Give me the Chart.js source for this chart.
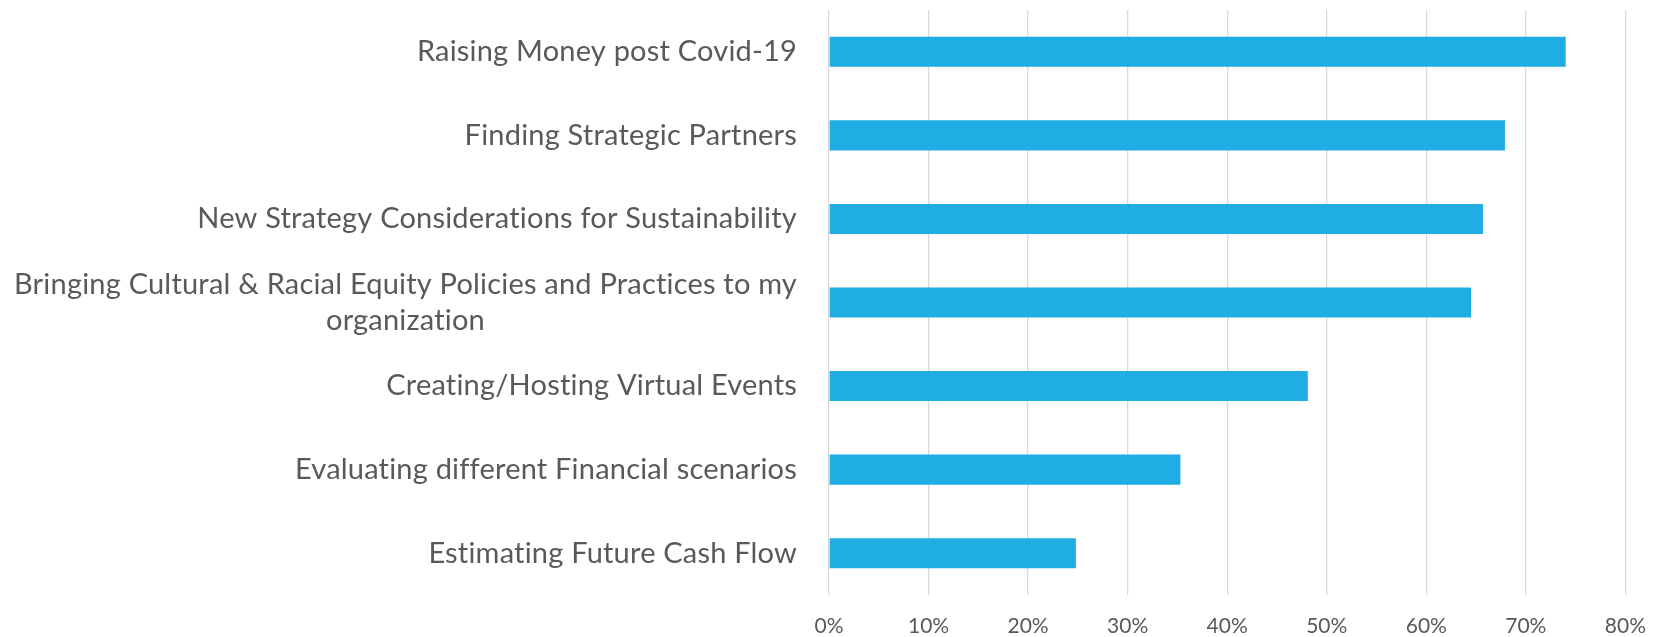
<!DOCTYPE html>
<html>
<head>
<meta charset="utf-8">
<title>Priorities</title>
<script src="https://cdn.jsdelivr.net/npm/chart.js@4.4.1/dist/chart.umd.min.js"></script>
<style>
    html, body { margin: 0; padding: 0; background: #ffffff; }
    #chart { display: block; }
</style>
</head>
<body>
<canvas id="chart" width="1667" height="637"></canvas>
<script>
/* ================== DATA ================== */
const categories = [
    "Raising Money post Covid-19",
    "Finding Strategic Partners",
    "New Strategy Considerations for Sustainability",
    ["Bringing Cultural & Racial Equity Policies and Practices to my", "organization"],
    "Creating/Hosting Virtual Events",
    "Evaluating different Financial scenarios",
    "Estimating Future Cash Flow"
];
const shares = [74.0, 67.9, 65.7, 64.5, 48.1, 35.3, 24.8];
const xTicks = [0, 10, 20, 30, 40, 50, 60, 70, 80];

/* ================== STYLE ================== */
const BAR_COLOR = "#1FADE3";
const GRID_COLOR = "#D9D9D9";
const TEXT_COLOR = "#595959";
const FONT = "Lato";
const LABEL_SIZE = 29;
const LABEL_LINE = 36;
const LABEL_GAP = 32;

/* ================== CATEGORY LABELS ================== */
// right-aligned block, each line centred inside it (like the source)
const yLabelPlugin = {
    id: "yLabels",
    afterDraw(chart) {
        const scale = chart.scales.y;
        const ctx = chart.ctx;
        ctx.save();
        ctx.font = `${LABEL_SIZE}px ${FONT}`;
        if ("letterSpacing" in ctx) ctx.letterSpacing = "0.2px"; // also stops the "ti" ligature
        ctx.fillStyle = TEXT_COLOR;
        ctx.textAlign = "center";
        ctx.textBaseline = "middle";
        const right = chart.chartArea.left - LABEL_GAP;
        categories.forEach((label, i) => {
            const lines = Array.isArray(label) ? label : [label];
            const w = Math.max(...lines.map(l => ctx.measureText(l).width));
            const cx = right - w / 2;
            const y0 = scale.getPixelForTick(i) - (lines.length - 1) * LABEL_LINE / 2;
            lines.forEach((l, j) => ctx.fillText(l, cx, y0 + j * LABEL_LINE));
        });
        ctx.restore();
    }
};

/* ================== CHART ================== */
new Chart(document.getElementById("chart"), {
    type: "bar",
    data: {
        labels: categories,
        datasets: [{
            data: shares,
            backgroundColor: BAR_COLOR,
            borderWidth: 0,
            categoryPercentage: 1,
            barPercentage: 0.36
        }]
    },
    options: {
        indexAxis: "y",
        responsive: false,
        animation: false,
        layout: { padding: { top: 10, right: 29, bottom: 0, left: 0 } },
        plugins: { legend: { display: false }, tooltip: { enabled: false } },
        scales: {
            x: {
                min: xTicks[0],
                max: xTicks[xTicks.length - 1],
                afterBuildTicks: s => { s.ticks = xTicks.map(v => ({ value: v })); },
                afterFit: s => { s.height = 42; },
                grid: { color: GRID_COLOR, lineWidth: 1.3, drawTicks: false },
                border: { display: false },
                ticks: {
                    padding: 21,
                    color: TEXT_COLOR,
                    font: { family: FONT, size: 21, lineHeight: 1 },
                    callback: v => v + "%"
                }
            },
            y: {
                grid: { display: false },
                border: { display: false },
                ticks: { display: false },
                afterFit: s => { s.width = 829; }
            }
        }
    },
    plugins: [yLabelPlugin]
});
</script>
</body>
</html>
